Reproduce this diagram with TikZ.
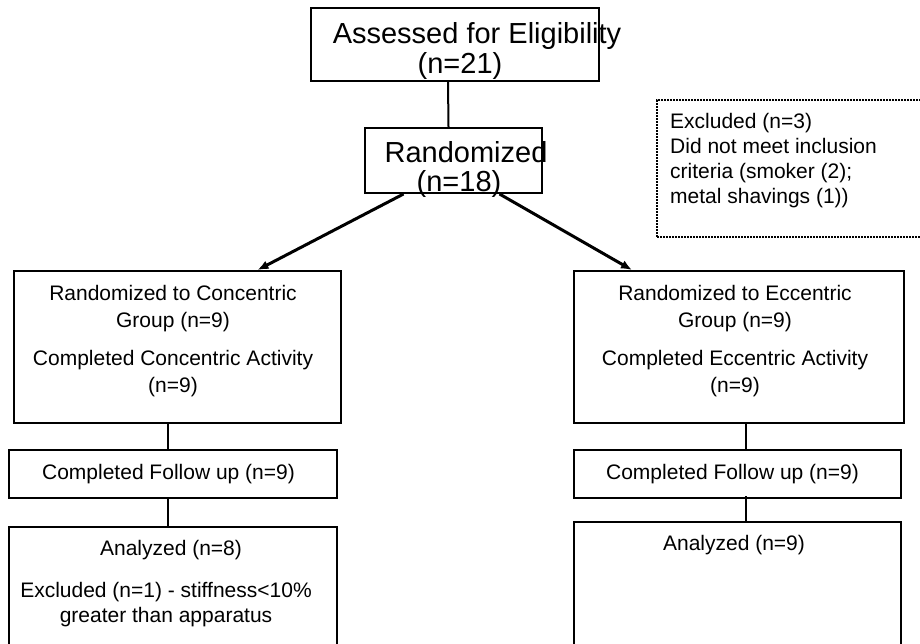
\documentclass[tikz,border=0pt]{standalone}
\usepackage{fontspec}
\setmainfont{Liberation Sans}
\usepackage{xcolor}
\usetikzlibrary{arrows.meta,positioning,calc}
\definecolor{Ink}{HTML}{000000}
\tikzset{
  box/.style={draw=Ink,line width=2pt,inner sep=0pt,fill=white},
  dotbox/.style={draw=Ink,line width=2.2pt,dash pattern=on 2pt off 1pt,inner sep=0pt},
  link/.style={draw=Ink,line width=2pt},
  arrow/.style={-{Latex[length=11pt,width=9pt]},line width=3pt,draw=Ink},
  txt/.style={font=\fontsize{21}{27}\selectfont,align=center,inner sep=0pt,anchor=north},
  bigtxt/.style={font=\fontsize{29}{30}\selectfont,align=center,inner sep=0pt,anchor=north},
  midtxt/.style={font=\fontsize{29}{29}\selectfont,align=center,inner sep=0pt,anchor=north},
  note/.style={font=\fontsize{21}{25}\selectfont,align=left,inner sep=0pt,anchor=north west}
}

\begin{document}
\begin{tikzpicture}[x=1pt,y=-1pt]
  \useasboundingbox (0,0) rectangle (920,643);
  \clip (0,0) rectangle (920,643);
  % boxes
  \node[box,minimum width=288,minimum height=73] (assess) at (455,44.5) {};
  \node[box,minimum width=177,minimum height=65] (rand) at (453.5,160.5) {};
  \node[dotbox,minimum width=278,minimum height=137] (excl) at (796,168.5) {};
  \node[box,minimum width=327,minimum height=152] (conc) at (177.5,347) {};
  \node[box,minimum width=330,minimum height=152] (ecc) at (739,347) {};
  \node[box,minimum width=328,minimum height=48] (concfu) at (173,474) {};
  \node[box,minimum width=327,minimum height=48] (eccfu) at (737.5,474) {};
  \node[box,minimum width=328,minimum height=160] (concan) at (173,607) {};
  \node[box,minimum width=327,minimum height=160] (eccan) at (737.5,602) {};
  % texts
  \node[bigtxt] (assess-t) at (468,22) {\makebox[0pt]{\hspace*{18pt}Assessed for Eligibility}\\\makebox[0pt]{\hspace*{-16pt}(n=21)}};
  \node[midtxt] (rand-t) at (462,141) {\makebox[0pt]{\hspace*{8pt}Randomized}\\\makebox[0pt]{\hspace*{-6pt}(n=18)}};
  \node[note] (excl-t) at (670,113) {Excluded (n=3)\\Did not meet inclusion\\criteria (smoker (2);\\metal shavings (1))};
  \node[txt] (conc-t) at (173,285) {Randomized to Concentric\\Group (n=9)\\[11pt]Completed Concentric Activity\\(n=9)};
  \node[txt] (ecc-t) at (735,285) {Randomized to Eccentric\\Group (n=9)\\[11pt]Completed Eccentric Activity\\(n=9)};
  \node[txt] (concfu-t) at (168.5,464) {Completed Follow up (n=9)};
  \node[txt] (eccfu-t) at (732.5,464) {Completed Follow up (n=9)};
  \node[txt] (concan-t) at (166,540) {\hspace*{10pt}Analyzed (n=8)\\[15pt]Excluded (n=1) - stiffness<10\%\\[-2pt]greater than apparatus};
  \node[txt] (eccan-t) at (734,535) {Analyzed (n=9)};
  % connectors
  \draw[link] ([xshift=-7]assess.south) -- ([xshift=-5]rand.north);
  \draw[arrow] ([xshift=-50]rand.south) -- ([xshift=80]conc.north);
  \draw[arrow] ([xshift=46]rand.south) -- ([xshift=-107]ecc.north);
  \draw[link] ([xshift=-5]concfu.north) -- ([xshift=-5]concfu.north |- conc.south);
  \draw[link] ([xshift=-5]concan.north) -- ([xshift=-5]concan.north |- concfu.south);
  \draw[link] ([xshift=8.5]eccfu.north) -- ([xshift=8.5]eccfu.north |- ecc.south);
  \draw[link] ([xshift=8.5]eccan.north) -- ([xshift=8.5,yshift=3]eccan.north |- eccfu.south);
\end{tikzpicture}
\end{document}
